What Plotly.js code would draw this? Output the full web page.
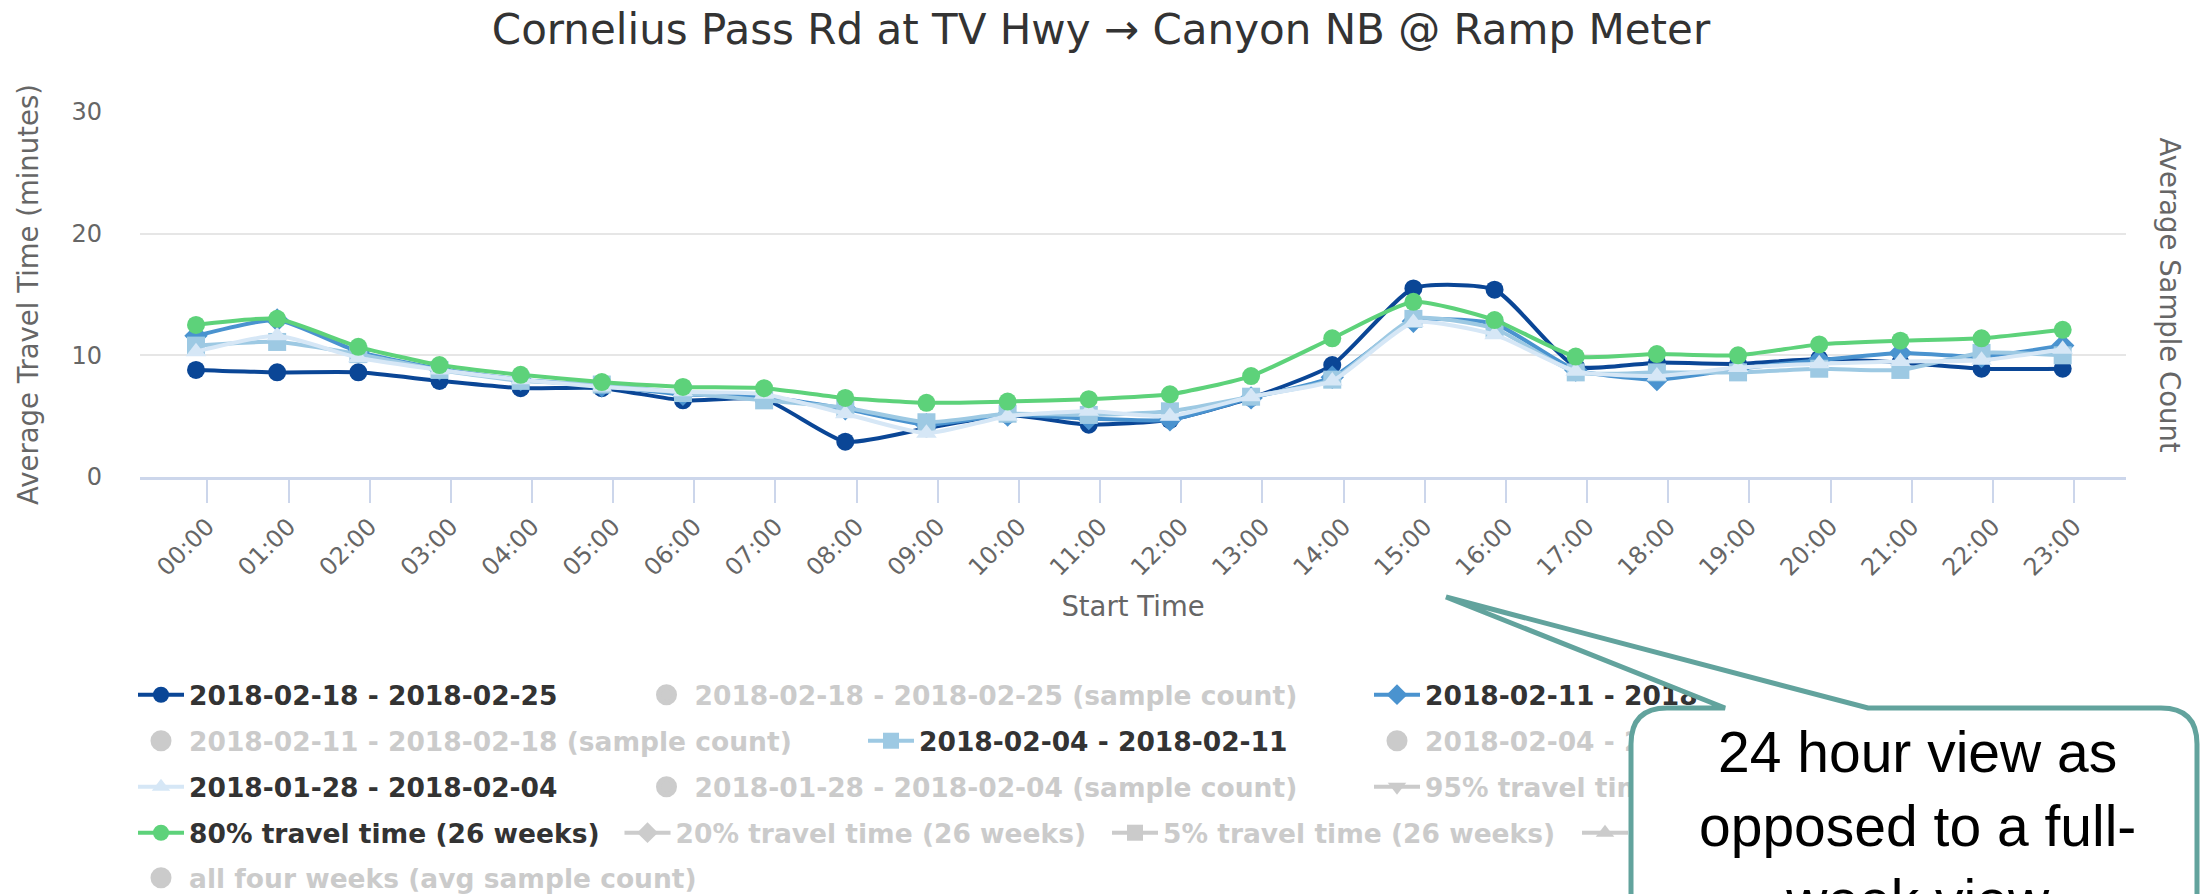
<!DOCTYPE html>
<html>
<head>
<meta charset="utf-8">
<script src="https://cdn.plot.ly/plotly-3.0.1.min.js"></script>
<style>
  html, body { margin: 0; padding: 0; background: #ffffff; }
  #chart { width: 2202px; height: 894px; }
</style>
</head>
<body>
<div id="chart"></div>
<script>
// ---------------- data ----------------
const hours = ['00:00','01:00','02:00','03:00','04:00','05:00','06:00','07:00','08:00','09:00','10:00','11:00',
               '12:00','13:00','14:00','15:00','16:00','17:00','18:00','19:00','20:00','21:00','22:00','23:00'];

const week0218 = [8.8, 8.6, 8.6, 7.9, 7.3, 7.3, 6.3, 6.4, 2.9, 4.0, 5.1, 4.3, 4.7, 6.5, 9.2, 15.5, 15.4, 9.1, 9.4, 9.3, 9.7, 9.4, 8.9, 8.9];
const week0211 = [11.6, 12.9, 10.3, 8.9, 8.0, 7.5, 6.8, 6.6, 5.6, 4.3, 5.1, 4.8, 4.7, 6.5, 8.2, 12.8, 12.6, 8.8, 8.0, 8.9, 9.6, 10.2, 9.9, 10.8];
const week0204 = [10.8, 11.1, 10.1, 8.8, 7.9, 7.6, 6.9, 6.3, 5.7, 4.5, 5.2, 5.1, 5.4, 6.6, 8.0, 13.0, 12.2, 8.6, 8.6, 8.6, 8.9, 8.8, 10.2, 10.0];
const week0128 = [10.3, 11.6, 9.8, 8.8, 8.0, 7.4, 7.0, 6.8, 5.2, 3.6, 5.0, 5.4, 5.0, 6.6, 7.9, 12.7, 11.7, 8.7, 8.3, 9.0, 9.3, 9.5, 9.6, 10.5];
const pct80    = [12.5, 13.0, 10.7, 9.2, 8.4, 7.8, 7.4, 7.3, 6.5, 6.1, 6.2, 6.4, 6.8, 8.3, 11.4, 14.4, 12.9, 9.9, 10.1, 10.0, 10.9, 11.2, 11.4, 12.1];
// series switched off in the legend: their values are not shown in the chart
const notShown = hours.map(() => null);

const seriesNames = [
  '2018-02-18 - 2018-02-25',
  '2018-02-18 - 2018-02-25 (sample count)',
  '2018-02-11 - 2018-02-18',
  '2018-02-11 - 2018-02-18 (sample count)',
  '2018-02-04 - 2018-02-11',
  '2018-02-04 - 2018-02-11 (sample count)',
  '2018-01-28 - 2018-02-04',
  '2018-01-28 - 2018-02-04 (sample count)',
  '95% travel time (26 weeks)',
  '80% travel time (26 weeks)',
  '20% travel time (26 weeks)',
  '5% travel time (26 weeks)',
  '50% travel time (26 weeks)',
  'all four weeks (avg sample count)'
];
const seriesValues = [week0218, notShown, week0211, notShown, week0204, notShown, week0128, notShown,
                      notShown, pct80, notShown, notShown, notShown, notShown];
const seriesShown  = [true, false, true, false, true, false, true, false,
                      false, true, false, false, false, false];

// ---------------- styles ----------------
const seriesStyle = [
  {kind: 'time',  color: '#0a4696', symbol: 'circle'},
  {kind: 'count', color: '#999999', symbol: 'circle'},
  {kind: 'time',  color: '#4a93cf', symbol: 'diamond'},
  {kind: 'count', color: '#999999', symbol: 'circle'},
  {kind: 'time',  color: '#9dc9e3', symbol: 'square'},
  {kind: 'count', color: '#999999', symbol: 'circle'},
  {kind: 'time',  color: '#d6e7f6', symbol: 'triangle-up'},
  {kind: 'count', color: '#999999', symbol: 'circle'},
  {kind: 'time',  color: '#999999', symbol: 'triangle-down'},
  {kind: 'time',  color: '#5dd27a', symbol: 'circle'},
  {kind: 'time',  color: '#999999', symbol: 'diamond'},
  {kind: 'time',  color: '#999999', symbol: 'square'},
  {kind: 'time',  color: '#999999', symbol: 'triangle-up'},
  {kind: 'count', color: '#999999', symbol: 'circle'}
];

// plot-area geometry (pixels)
const FIG_W = 2202, FIG_H = 894;
const PLOT_L = 140, PLOT_R = 2126, PLOT_T = 112, PLOT_B = 477;
const X = p => (p - PLOT_L) / (PLOT_R - PLOT_L);
const Y = p => (PLOT_B - p) / (PLOT_B - PLOT_T);

const hourIdx = hours.map((h, i) => i);
const TICK_SHIFT = 0.14;

// legend layout (Highcharts-like flowing rows): [row, x of text start]
const LEGEND_ROW_Y = [695, 741, 787, 833, 878];
const legendSlots = [[0,189],[0,694.5],[0,1425],[1,189],[1,919],[1,1425],[2,189],[2,694.5],[2,1425],
                     [3,189],[3,675.5],[3,1163],[3,1633],[4,189]];
const ITEM_W = 46, TEXT_GAP = ITEM_W + 10;

const legendKey = i => (i === 0 ? 'legend' : 'legend' + (i + 1));

const traces = seriesNames.map((name, i) => {
  const st = seriesStyle[i];
  const isCount = st.kind === 'count';
  return {
    type: 'scatter',
    name: name,
    x: hourIdx,
    y: seriesValues[i],
    yaxis: isCount ? 'y2' : 'y',
    mode: isCount ? 'markers' : 'lines+markers',
    visible: seriesShown[i] ? true : 'legendonly',
    showlegend: true,
    line: {color: st.color, width: 4, shape: 'spline', smoothing: 0.55},
    marker: {symbol: st.symbol, color: st.color, size: isCount ? 24 : 18,
             line: {color: st.color, width: isCount ? 5 : 0}},
    legend: legendKey(i)
  };
});

const axisFont = {family: 'DejaVu Sans', size: 24, color: '#666666'};
const axisTitleFont = {family: 'DejaVu Sans', size: 27.5, color: '#666666'};

const layout = {
  width: FIG_W, height: FIG_H,
  showlegend: true,
  margin: {l: PLOT_L, r: FIG_W - PLOT_R, t: PLOT_T, b: FIG_H - PLOT_B, autoexpand: false},
  paper_bgcolor: '#ffffff', plot_bgcolor: '#ffffff',
  title: {
    text: 'Cornelius Pass Rd at TV Hwy → Canyon NB @ Ramp Meter',
    font: {family: 'DejaVu Sans', size: 42, color: '#333333'},
    x: 0.5, xref: 'container', xanchor: 'center',
    y: 1 - 29 / FIG_H, yref: 'container', yanchor: 'middle'
  },
  xaxis: {
    type: 'linear',
    range: [-0.69, 23.78],
    tickvals: hourIdx.map(i => i + TICK_SHIFT),
    ticktext: hours,
    tickangle: -45,
    tickfont: axisFont,
    ticks: 'outside', ticklen: 23, tickwidth: 2, tickcolor: '#ccd6eb',
    showline: true, linecolor: '#ccd6eb', linewidth: 3,
    showgrid: false, zeroline: false,
    title: {text: 'Start Time', font: axisTitleFont, standoff: 17}
  },
  yaxis: {
    range: [0, 30], tickvals: [0, 10, 20, 30],
    tickfont: axisFont, ticks: '', ticklabelstandoff: 37,
    showgrid: true, gridcolor: '#e6e6e6', gridwidth: 2,
    zeroline: false, showline: false,
    title: {text: 'Average Travel Time (minutes)', font: axisTitleFont, standoff: 24}
  },
  yaxis2: {
    overlaying: 'y', side: 'right', showgrid: false, zeroline: false,
    showticklabels: false, ticks: '', showline: false
  },
  annotations: [{
    text: 'Average Sample Count', textangle: 90, showarrow: false,
    xref: 'paper', yref: 'paper', x: X(2170), y: 0.5, xanchor: 'center', yanchor: 'middle',
    font: axisTitleFont
  }],
  shapes: []
};

seriesNames.forEach((name, i) => {
  const [row, textX] = legendSlots[i];
  layout[legendKey(i)] = {
    visible: true,
    orientation: 'h',
    x: X(textX - TEXT_GAP), xanchor: 'left',
    y: Y(LEGEND_ROW_Y[row]), yanchor: 'middle',
    bgcolor: 'rgba(0,0,0,0)', borderwidth: 0,
    itemwidth: ITEM_W,
    font: {family: 'DejaVu Sans', size: 26.5, weight: 'bold', color: seriesShown[i] ? '#333333' : '#999999'}
  };
});

// callout bubble (drawn over the legend)
const CO = {left: 1631, top: 708, right: 2197, bottom: 980, r: 36, tipX: 1446, tipY: 597, baseL: 1725, baseR: 1868};
const pt = (a, b) => X(a).toFixed(5) + ',' + Y(b).toFixed(5);
const calloutPath =
  'M' + pt(CO.left + CO.r, CO.top) +
  ' L' + pt(CO.baseL, CO.top) +
  ' L' + pt(CO.tipX, CO.tipY) +
  ' L' + pt(CO.baseR, CO.top) +
  ' L' + pt(CO.right - CO.r, CO.top) +
  ' Q' + pt(CO.right, CO.top) + ' ' + pt(CO.right, CO.top + CO.r) +
  ' L' + pt(CO.right, CO.bottom) +
  ' L' + pt(CO.left, CO.bottom) +
  ' L' + pt(CO.left, CO.top + CO.r) +
  ' Q' + pt(CO.left, CO.top) + ' ' + pt(CO.left + CO.r, CO.top) + ' Z';

layout.shapes.push({
  type: 'path', xref: 'paper', yref: 'paper', layer: 'above',
  path: calloutPath, fillcolor: '#ffffff',
  line: {color: '#62a39d', width: 5}
});
layout.annotations.push({
  text: '24 hour view as<br>opposed to a full-<br>week view',
  showarrow: false, xref: 'paper', yref: 'paper',
  x: X(1917), xanchor: 'center', y: Y(718), yanchor: 'top', align: 'center',
  font: {family: 'Liberation Sans', size: 57, color: '#000000'}
});

const gd = document.getElementById('chart');
Plotly.newPlot(gd, traces, layout, {displayModeBar: false, staticPlot: true}).then(() => {
  // the callout covers the legend in the original figure: put the legends under the shape layer
  const above = gd.querySelector('.layer-above');
  const info = gd.querySelector('.infolayer');
  if (above && info) {
    Array.from(info.children)
      .filter(n => /(^|\s)legend\d*(\s|$)/.test(n.getAttribute('class') || ''))
      .forEach(n => above.parentNode.insertBefore(n, above));
  }
});
</script>
</body>
</html>
